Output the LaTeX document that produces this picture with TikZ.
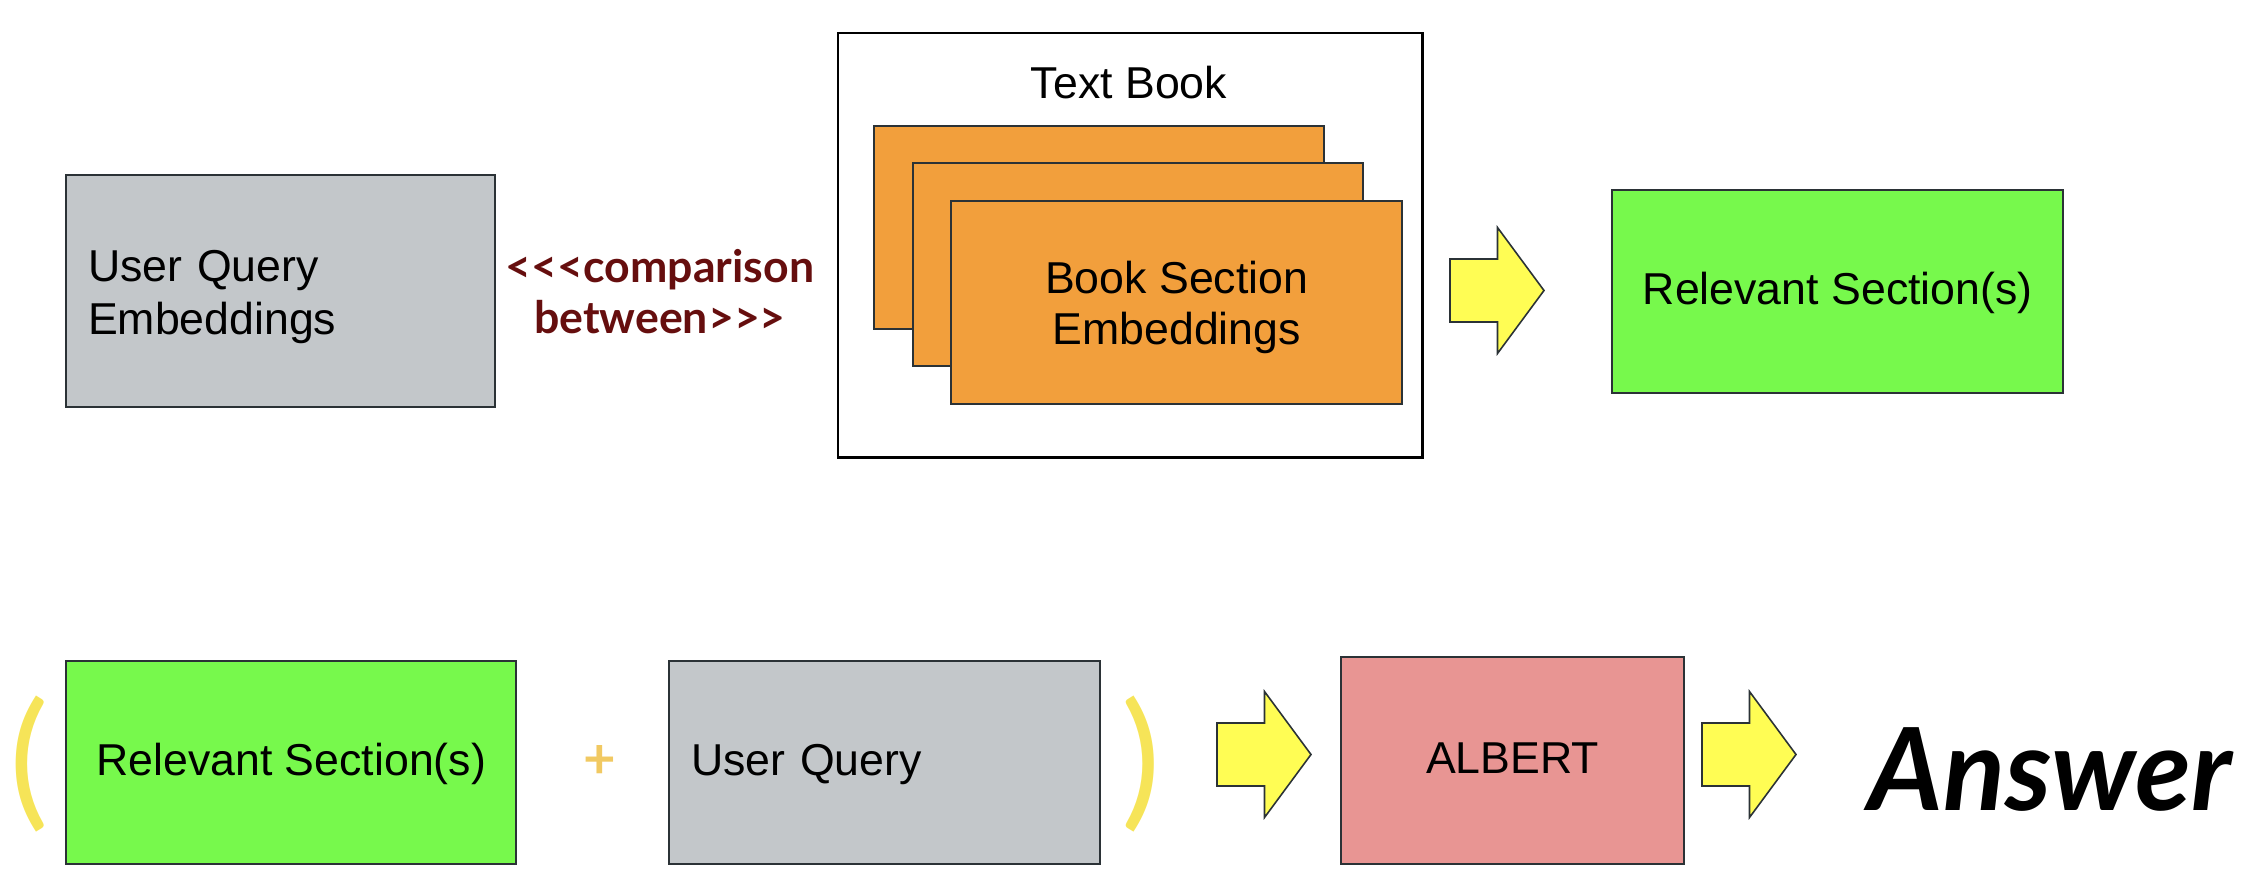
\documentclass[tikz,border=0pt]{standalone}
\usepackage{fontspec}
\setmainfont{Liberation Sans}
\newfontfamily\latofont{Lato}

\definecolor{queryGray}{RGB}{195,199,202}
\definecolor{sectionOrange}{RGB}{242,159,60}
\definecolor{relevantGreen}{RGB}{119,249,76}
\definecolor{albertPink}{RGB}{232,149,147}
\definecolor{arrowYellow}{RGB}{255,253,84}
\definecolor{edgeGray}{RGB}{43,50,54}
\definecolor{darkMaroon}{RGB}{102,14,14}
\definecolor{parenYellow}{RGB}{246,228,88}
\definecolor{plusYellow}{RGB}{241,201,98}

\tikzset{
  bigtext/.style={font=\fontsize{12.7}{14.6}\selectfont, inner sep=0pt},
  box/.style={bigtext, draw=edgeGray, line width=0.6pt, anchor=north west},
  oneline/.style={text height=0.716em, text depth=0pt},
  twoline/.style={text depth=0pt},
  paren/.style={font=\latofont\fontsize{42}{42}\selectfont, text=parenYellow, inner sep=0pt},
  fatarrow/.pic={
    \draw[draw=edgeGray, fill=arrowYellow, line width=0.45pt, line join=miter]
      (0,-31.5) -- (47.5,-31.5) -- (47.5,-63) -- (94,0) -- (47.5,63) -- (47.5,31.5) -- (0,31.5) -- cycle;
  }
}

\begin{document}
\begin{tikzpicture}[x=0.01cm, y=-0.01cm]
  \useasboundingbox (0,0) rectangle (2256,876);

  % top row
  \node[font=\fontsize{12.7}{14.9}\selectfont, inner sep=0pt, draw=edgeGray, line width=0.6pt, anchor=north west, fill=queryGray, minimum width=4.29cm, minimum height=2.32cm, text width=3.85cm, align=left, text height=0.716em, text depth=12.4pt] (queryemb) at (65,174) {User Query\\Embeddings};

  \node[font=\latofont\bfseries\fontsize{12.7}{14.5}\selectfont, text=darkMaroon, align=center, inner sep=0pt] (compare) at (660,292) {<{}<{}<comparison\\between>{}>{}>};

  \node[draw=black, line width=0.7pt, anchor=north west, inner sep=0pt, minimum width=5.84cm, minimum height=4.24cm] (textbook) at (837,32) {};
  \node[bigtext, anchor=base] (booktitle) at (1129,99) {Text Book};
  \node[box, fill=sectionOrange, minimum width=4.5cm, minimum height=2.03cm] (sectionA) at (873,125) {};
  \node[box, fill=sectionOrange, minimum width=4.5cm, minimum height=2.03cm] (sectionB) at (912,162) {};
  \node[box, twoline, fill=sectionOrange, minimum width=4.51cm, minimum height=2.03cm, align=center] (sectionC) at (950,200) {Book Section\\Embeddings};

  \coordinate (arrowA) at (1450,290.5);
  \pic at (arrowA) {fatarrow};

  \node[box, oneline, fill=relevantGreen, minimum width=4.51cm, minimum height=2.03cm] (relevantA) at (1611,189) {Relevant Section(s)};

  % bottom row
  \node[paren] (openparen) at (29,764.5) {(};
  \node[box, oneline, fill=relevantGreen, minimum width=4.5cm, minimum height=2.03cm] (relevantB) at (65,660) {Relevant Section(s)};
  \node[font=\latofont\bfseries\fontsize{16}{16}\selectfont, text=plusYellow, inner sep=0pt] (plus) at (600,762) {+};
  \node[box, oneline, fill=queryGray, minimum width=4.31cm, minimum height=2.03cm, text width=3.87cm, align=left] (query) at (668,660) {User Query};
  \node[paren] (closeparen) at (1141,764.5) {)};

  \coordinate (arrowB) at (1217,754.5);
  \pic at (arrowB) {fatarrow};

  \node[box, oneline, fill=albertPink, minimum width=3.43cm, minimum height=2.07cm] (albert) at (1340,656) {ALBERT};

  \coordinate (arrowC) at (1702,754.5);
  \pic at (arrowC) {fatarrow};

  \node[font=\latofont\bfseries\itshape\fontsize{32.6}{32.6}\selectfont, anchor=base west, inner sep=0pt] (answer) at (1868,810) {Answer};
\end{tikzpicture}
\end{document}
